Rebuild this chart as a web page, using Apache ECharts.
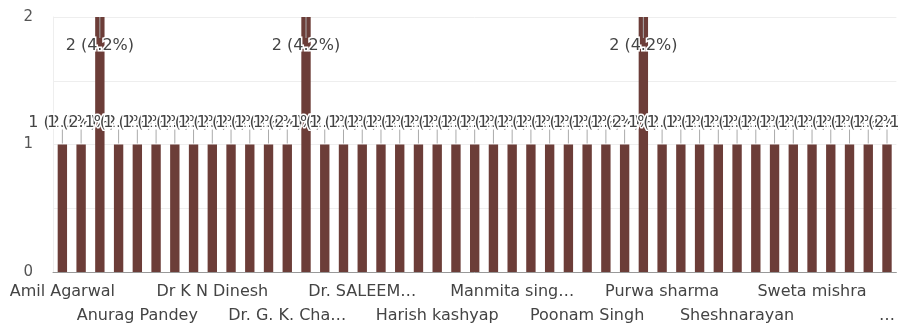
<!DOCTYPE html>
<html>
<head>
<meta charset="utf-8">
<script src="https://cdn.jsdelivr.net/npm/echarts@6/dist/echarts.min.js"></script>
<style>
html,body{margin:0;padding:0;background:#fff;}
#chart{width:898px;height:329px;}
</style>
</head>
<body>
<div id="chart"></div>
<script>
// Categories (only every 4th name is visible in the reference; the others are placeholders)
const categories = [
  "Amil Agarwal", "Respondent 2", "Respondent 3", "Respondent 4",
  "Anurag Pandey", "Respondent 6", "Respondent 7", "Respondent 8",
  "Dr K N Dinesh", "Respondent 10", "Respondent 11", "Respondent 12",
  "Dr. G. K. Cha…", "Respondent 14", "Respondent 15", "Respondent 16",
  "Dr. SALEEM…", "Respondent 18", "Respondent 19", "Respondent 20",
  "Harish kashyap", "Respondent 22", "Respondent 23", "Respondent 24",
  "Manmita sing…", "Respondent 26", "Respondent 27", "Respondent 28",
  "Poonam Singh", "Respondent 30", "Respondent 31", "Respondent 32",
  "Purwa sharma", "Respondent 34", "Respondent 35", "Respondent 36",
  "Sheshnarayan", "Respondent 38", "Respondent 39", "Respondent 40",
  "Sweta mishra", "Respondent 42", "Respondent 43", "Respondent 44",
  "…"
];
// Response counts
const counts = [
  1, 1, 2, 1, 1, 1, 1, 1, 1, 1, 1, 1, 1, 2, 1, 1,
  1, 1, 1, 1, 1, 1, 1, 1, 1, 1, 1, 1, 1, 1, 1, 2,
  1, 1, 1, 1, 1, 1, 1, 1, 1, 1, 1, 1, 1
];
const yTicks = [0, 1, 2];

const total = counts.reduce((a, b) => a + b, 0);
const yMax = Math.max(...yTicks);
const FONT = 'DejaVu Sans';

function labelAxis(rowOffset, margin, line) {
  return {
    type: 'category',
    data: categories,
    position: 'bottom',
    axisTick: {show: false},
    axisLine: {show: line, lineStyle: {color: '#999', width: 1}},
    splitLine: {show: false},
    axisLabel: {
      interval: (idx) => idx % 8 === rowOffset,
      hideOverlap: false,
      margin: margin,
      color: '#444',
      fontFamily: FONT,
      fontSize: 16
    }
  };
}

const chart = echarts.init(document.getElementById('chart'), null, {renderer: 'canvas'});
chart.setOption({
  animation: false,
  grid: {left: 53, right: 1.5, top: 17, bottom: 57, containLabel: false},
  xAxis: [
    labelAxis(0, 12, true),
    labelAxis(4, 36, false)
  ],
  yAxis: {
    type: 'value',
    min: 0,
    max: yMax,
    interval: 0.5,
    axisLine: {show: true, lineStyle: {color: '#eee'}},
    axisTick: {show: false},
    splitLine: {lineStyle: {color: '#eee', width: 1}},
    axisLabel: {
      margin: 20,
      color: '#555',
      fontFamily: FONT,
      fontSize: 15,
      formatter: v => (yTicks.indexOf(v) >= 0 ? String(v) : '')
    }
  },
  series: [
    {
      type: 'bar',
      xAxisIndex: 0,
      data: counts,
      barWidth: '50%',
      itemStyle: {color: '#6c3d38'},
      z: 2
    },
    {
      type: 'custom',
      xAxisIndex: 0,
      clip: false,
      z: 3,
      data: counts.map((v, i) => [i, v]),
      renderItem: (params, api) => {
        const i = api.value(0), v = api.value(1);
        const top = api.coord([i, v]);
        const inside = v >= yMax;
        const pct = (v / total * 100).toFixed(1);
        const txt = v + ' (' + pct + '%)';
        let lineY1, lineY2, textY;
        if (inside) {
          lineY1 = top[1]; lineY2 = top[1] + 21; textY = top[1] + 29;
        } else {
          lineY1 = top[1] - 1; lineY2 = top[1] - 15; textY = top[1] - 22;
        }
        return {
          type: 'group',
          children: [
            {type: 'line', shape: {x1: top[0], y1: lineY1, x2: top[0], y2: lineY2},
             style: {stroke: '#aaa', lineWidth: 1}},
            {type: 'text', x: top[0], y: textY,
             style: {text: txt, align: 'center', verticalAlign: 'middle', fill: '#444',
                     font: '16px "' + FONT + '"', stroke: '#fff', lineWidth: 3}}
          ]
        };
      }
    }
  ]
});
</script>
</body>
</html>
